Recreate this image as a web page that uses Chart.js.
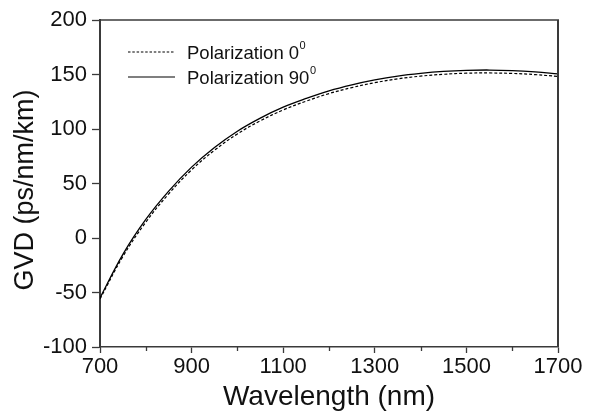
<!DOCTYPE html>
<html><head><meta charset="utf-8">
<script src="https://cdn.jsdelivr.net/npm/chart.js@4.4.0/dist/chart.umd.min.js"></script>
<style>html,body{margin:0;padding:0;background:#fff}canvas{display:block}</style>
</head><body>
<canvas id="c" width="596" height="412" style="width:596px;height:412px"></canvas>
<script>
const wavelengths = [700, 750, 800, 850, 900, 950, 1000, 1050, 1100, 1150, 1200, 1250, 1300, 1350, 1400, 1450, 1500, 1550, 1600, 1650, 1700];
const gvdPol0  = [-56, -17, 14.5, 40.5, 62.5, 80.5, 95.5, 107.5, 117.5, 125.5, 132.5, 138, 142.5, 146, 148.5, 150.2, 151.2, 151.4, 151, 149.9, 148.2];
const gvdPol90 = [-55, -15, 17, 43, 65, 83, 98, 110, 120, 128, 135, 140.5, 145, 148.5, 151, 152.8, 153.8, 154.1, 153.6, 152.4, 150.6];
const xTickValues = [700, 900, 1100, 1300, 1500, 1700];
const xMinorTickValues = [800, 1000, 1200, 1400, 1600];
const yTickValues = [-100, -50, 0, 50, 100, 150, 200];
const seriesLabels = ['Polarization 0', 'Polarization 90'];
const seriesSuperscript = ['0', '0'];
const xTitle = 'Wavelength (nm)';
const yTitle = 'GVD (ps/nm/km)';

const AXIS = '#3a3a3a';
const TEXT = '#111111';
const FONT = "'Liberation Sans', Arial, sans-serif";

const toPts = (ys) => wavelengths.map((x, i) => ({x: x, y: ys[i]}));

const extras = {
  id: 'extras',
  afterDraw(chart) {
    const ctx = chart.ctx;
    const a = chart.chartArea;
    const xs = chart.scales.x;
    ctx.save();
    ctx.strokeStyle = AXIS;
    ctx.lineWidth = 1.5;
    ctx.beginPath(); ctx.moveTo(a.left, a.top); ctx.lineTo(a.right + 1, a.top); ctx.stroke();
    ctx.lineWidth = 2;
    ctx.beginPath(); ctx.moveTo(a.right, a.top); ctx.lineTo(a.right, a.bottom); ctx.stroke();
    ctx.lineWidth = 1.3;
    xMinorTickValues.forEach(v => {
      const px = Math.round(xs.getPixelForValue(v)) + 0.5;
      ctx.beginPath(); ctx.moveTo(px, a.bottom); ctx.lineTo(px, a.bottom + 4); ctx.stroke();
    });
    const lx0 = a.left + 28, lx1 = a.left + 75, tx = a.left + 87;
    const rows = [a.top + 32, a.top + 57];
    chart.data.datasets.forEach((ds, i) => {
      const y = rows[i];
      ctx.strokeStyle = '#000';
      ctx.lineWidth = 1.1;
      ctx.setLineDash(i === 0 ? [2.5, 1.8] : []);
      ctx.beginPath(); ctx.moveTo(lx0, y); ctx.lineTo(lx1, y); ctx.stroke();
      ctx.setLineDash([]);
      ctx.fillStyle = TEXT;
      ctx.textBaseline = 'alphabetic';
      ctx.textAlign = 'left';
      ctx.font = '18.5px ' + FONT;
      ctx.fillText(seriesLabels[i], tx, y + 6.6);
      const w = ctx.measureText(seriesLabels[i]).width;
      ctx.font = '11px ' + FONT;
      ctx.fillText(seriesSuperscript[i], tx + w + 0.5, y - 3.3);
    });
    ctx.translate(25.5, 190);
    ctx.rotate(-Math.PI / 2);
    ctx.font = '27px ' + FONT;
    ctx.textAlign = 'center';
    ctx.textBaseline = 'middle';
    ctx.fillStyle = TEXT;
    ctx.fillText(yTitle, 0, 0);
    ctx.restore();
  }
};

new Chart(document.getElementById('c'), {
  type: 'line',
  data: {
    datasets: [
      { label: seriesLabels[0], data: toPts(gvdPol0), borderColor: '#000', borderWidth: 1.2, borderDash: [3, 2], pointRadius: 0, tension: 0.4, fill: false },
      { label: seriesLabels[1], data: toPts(gvdPol90), borderColor: '#000', borderWidth: 1.3, pointRadius: 0, tension: 0.4, fill: false }
    ]
  },
  options: {
    responsive: false,
    animation: false,
    devicePixelRatio: 1,
    layout: { padding: { top: 20, right: 38, bottom: 0, left: 0 } },
    plugins: { legend: { display: false }, tooltip: { enabled: false } },
    scales: {
      x: {
        type: 'linear', min: 700, max: 1700,
        afterBuildTicks: s => { s.ticks = xTickValues.map(v => ({ value: v })); },
        afterFit: s => { s.height = 65; },
        border: { display: true, color: AXIS, width: 1.5 },
        grid: { display: true, drawOnChartArea: false, drawTicks: true, tickLength: 6, tickColor: AXIS, tickWidth: 1.3 },
        ticks: { color: TEXT, font: { family: FONT, size: 22 }, padding: 1, maxRotation: 0, autoSkip: false, callback: v => String(v) },
        title: { display: true, text: xTitle, color: TEXT, font: { family: FONT, size: 28, lineHeight: 1.05 }, padding: { top: 0, bottom: 0 } }
      },
      y: {
        type: 'linear', min: -100, max: 200,
        afterBuildTicks: s => { s.ticks = yTickValues.map(v => ({ value: v })); },
        afterFit: s => { s.width = 100; },
        border: { display: true, color: AXIS, width: 2 },
        grid: { display: true, drawOnChartArea: false, drawTicks: true, tickLength: 8, tickColor: AXIS, tickWidth: 1.3 },
        ticks: { color: TEXT, font: { family: FONT, size: 22 }, padding: 5, autoSkip: false, callback: v => String(v) },
        title: { display: false }
      }
    }
  },
  plugins: [extras]
});
</script>
</body></html>
